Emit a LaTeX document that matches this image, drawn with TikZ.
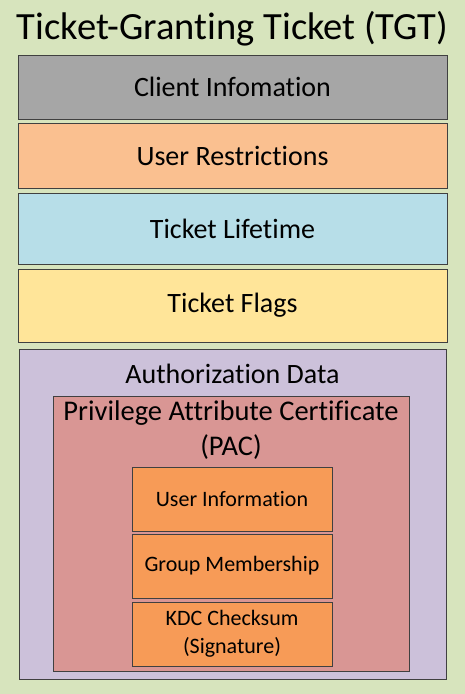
\documentclass[tikz,border=0pt]{standalone}
\usepackage{fontspec}
\setmainfont{Carlito}[Ligatures={NoCommon}]
\definecolor{bgc}{HTML}{D7E4BD}
\definecolor{grayc}{HTML}{A6A6A6}
\definecolor{peachc}{HTML}{FAC090}
\definecolor{bluec}{HTML}{B7DEE8}
\definecolor{yellowc}{HTML}{FFE599}
\definecolor{lavc}{HTML}{CCC1DA}
\definecolor{pacc}{HTML}{D99694}
\definecolor{orangec}{HTML}{F79B57}
\definecolor{edgec}{HTML}{404040}
\tikzset{
  field/.style={draw=edgec, line width=0.9pt, rectangle, inner sep=0pt, text=black,
    minimum width=429pt, font=\fontsize{28}{32}\selectfont},
  sub/.style={draw=edgec, line width=0.9pt, rectangle, inner sep=0pt, fill=orangec,
    minimum width=200pt, minimum height=64pt, align=center, font=\fontsize{22}{28}\selectfont},
  lbl/.style={inner sep=0pt, align=center}
}
\begin{document}
\begin{tikzpicture}[x=1pt,y=-1pt]
\fill[bgc] (0,0) rectangle (465,694);
\useasboundingbox (0,0) rectangle (465,694);
\node[lbl, font=\fontsize{38.5}{44}\selectfont] (title) at (232.5,29) {Ticket-Granting Ticket (TGT)};
\node[field, fill=grayc, minimum height=64pt] (client) at (232.5,87) {Client Infomation};
\node[field, fill=peachc, minimum height=65pt] (restr) at (232.5,155.5) {User Restrictions};
\node[field, fill=bluec, minimum height=71pt] (life) at (232.5,228.5) {Ticket Lifetime};
\node[field, fill=yellowc, minimum height=73pt] (flags) at (232.5,305.5) {Ticket Flags};
\node[draw=edgec, line width=0.9pt, fill=lavc, minimum width=427pt, minimum height=330pt, inner sep=0pt] (auth) at (232.5,514) {};
\node[lbl, font=\fontsize{28}{32}\selectfont] (authl) at (232.5,374) {Authorization Data};
\node[draw=edgec, line width=0.6pt, fill=pacc, minimum width=356pt, minimum height=275pt, inner sep=0pt] (pac) at (231,533.5) {};
\node[lbl, font=\fontsize{28.5}{35}\selectfont] (pacl) at (231,430) {Privilege Attribute Certificate\\(PAC)};
\node[sub] (uinfo) at (232,499) {User Information};
\node[sub] (group) at (232,566) {Group Membership};
\node[sub] (kdc) at (232,634) {KDC Checksum\\(Signature)};
\end{tikzpicture}
\end{document}
